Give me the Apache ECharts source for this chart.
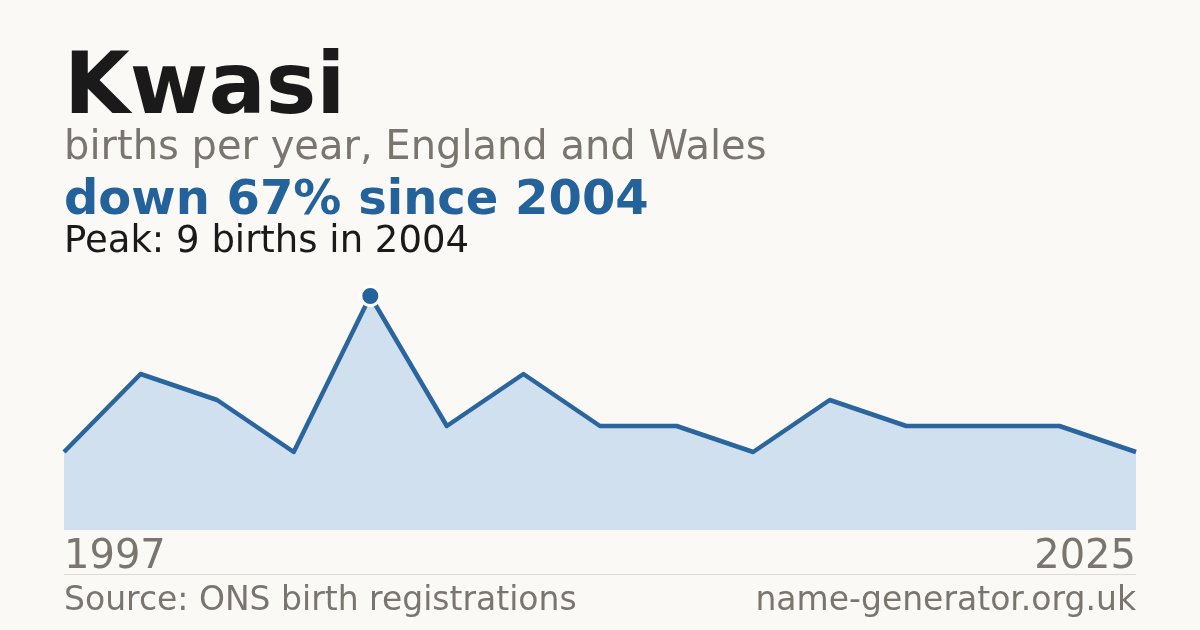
<!DOCTYPE html>
<html>
<head>
<meta charset="utf-8">
<script src="https://cdn.jsdelivr.net/npm/echarts@6/dist/echarts.min.js"></script>
<style>
html,body{margin:0;padding:0;background:#faf9f5;}
#c{width:1200px;height:630px;}
</style>
</head>
<body>
<div id="c"></div>
<script>
const years = ['1997','2000','2001','2003','2004','2006','2008','2010','2012','2014','2016','2018','2021','2023','2025'];
const births = [3, 6, 5, 3, 9, 4, 6, 4, 4, 3, 5, 4, 4, 4, 3];
const titleText = 'Kwasi';
const subtitleText = 'births per year, England and Wales';
const peakVal = Math.max(...births);
const peakIdx = births.indexOf(peakVal);
const lastVal = births[births.length - 1];
const changePct = Math.round((peakVal - lastVal) / peakVal * 100);
const headlineText = 'down ' + changePct + '% since ' + years[peakIdx];
const peakText = 'Peak: ' + peakVal + ' births in ' + years[peakIdx];
const sourceText = 'Source: ONS birth registrations';
const siteText = 'name-generator.org.uk';

const FONT = '"DejaVu Sans", sans-serif';
const chart = echarts.init(document.getElementById('c'), null, {renderer: 'canvas'});
function txt(text, x, yBase, size, weight, color, align) {
  return {
    type: 'text', x: x, y: yBase - 0.27 * size,
    style: {text: text, font: weight + ' ' + size + 'px ' + FONT, fill: color,
            align: align || 'left', verticalAlign: 'middle'}
  };
}
chart.setOption({
  backgroundColor: '#faf9f5',
  animation: false,
  grid: {left: 64, right: 64, top: 296, bottom: 100},
  xAxis: {
    type: 'category', data: years, boundaryGap: false,
    axisLine: {show: false}, axisTick: {show: false}, splitLine: {show: false},
    axisLabel: {
      interval: function (i) { return i === 0 || i === years.length - 1; },
      color: '#7a766f', fontFamily: FONT, fontSize: 40, margin: 8,
      alignMinLabel: 'left', alignMaxLabel: 'right'
    }
  },
  yAxis: {
    type: 'value', min: 0, max: peakVal, show: false, splitLine: {show: false}
  },
  series: [
    {
      type: 'line', data: births, showSymbol: false, symbol: 'none',
      lineStyle: {color: '#2a669d', width: 4.5, join: 'round'},
      areaStyle: {color: '#d0e0ef', opacity: 1},
      z: 2
    },
    {
      type: 'scatter', data: [[peakIdx, peakVal]], symbol: 'circle', symbolSize: 19,
      itemStyle: {color: '#23629a', borderColor: '#ffffff', borderWidth: 3, opacity: 1},
      z: 3
    }
  ],
  graphic: [
    txt(titleText, 64, 114, 85, 'bold', '#1a1a1a'),
    txt(subtitleText, 64, 159, 40, 'normal', '#7a766f'),
    txt(headlineText, 64, 214, 48, 'bold', '#23629a'),
    txt(peakText, 64, 252, 37, 'normal', '#1a1a1a'),
    {type: 'line', shape: {x1: 64, y1: 574.5, x2: 1136, y2: 574.5},
     style: {stroke: '#dedad2', lineWidth: 1}},
    txt(sourceText, 64, 610, 33, 'normal', '#7a766f'),
    txt(siteText, 1136, 610, 33, 'normal', '#7a766f', 'right')
  ]
});
</script>
</body>
</html>
